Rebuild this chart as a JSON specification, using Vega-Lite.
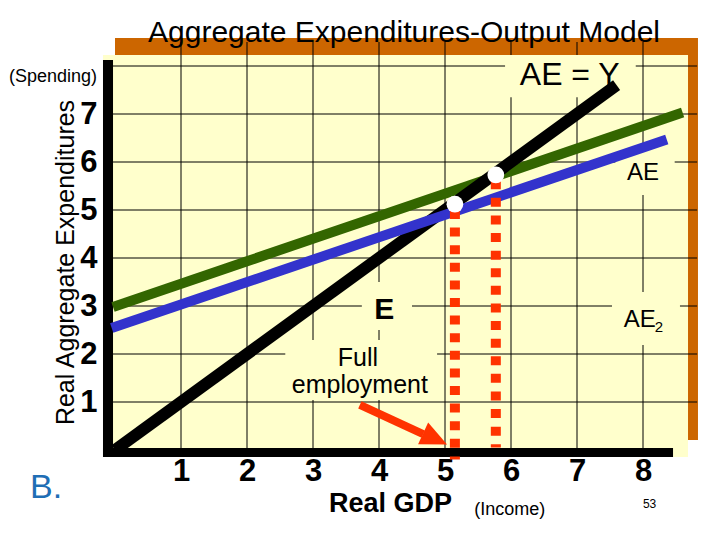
{
  "$schema": "https://vega.github.io/schema/vega-lite/v6.json",
  "width": 600,
  "height": 424,
  "autosize": {"type": "none"},
  "padding": {"left": 100, "top": 36, "right": 20, "bottom": 80},
  "background": "white",
  "title": {"text": "Aggregate Expenditures-Output Model", "fontSize": 30, "fontWeight": "normal", "font": "Liberation Sans", "color": "black", "anchor": "middle", "dx": 4, "baseline": "alphabetic", "offset": -36},
  "config": {"view": {"stroke": null}, "font": "Liberation Sans"},
  "datasets": {
    "panels": [
      {"part": "shadow", "x": 0, "x2": 8.833, "y": 0.208, "y2": 8.583},
      {"part": "face", "x": -0.182, "x2": 8.682, "y": -0.146, "y2": 8.229}
    ],
    "grid": [
      {"x": 1, "x2": 1, "y": 0, "y2": 8.5},
      {"x": 2, "x2": 2, "y": 0, "y2": 8.5},
      {"x": 3, "x2": 3, "y": 0, "y2": 8.5},
      {"x": 4, "x2": 4, "y": 0, "y2": 8.5},
      {"x": 5, "x2": 5, "y": 0, "y2": 8.5},
      {"x": 6, "x2": 6, "y": 0, "y2": 8.5},
      {"x": 7, "x2": 7, "y": 0, "y2": 8.5},
      {"x": 8, "x2": 8, "y": 0, "y2": 8.5},
      {"x": -0.1, "x2": 8.82, "y": 1, "y2": 1},
      {"x": -0.1, "x2": 8.82, "y": 2, "y2": 2},
      {"x": -0.1, "x2": 8.82, "y": 3, "y2": 3},
      {"x": -0.1, "x2": 8.82, "y": 4, "y2": 4},
      {"x": -0.1, "x2": 8.82, "y": 5, "y2": 5},
      {"x": -0.1, "x2": 8.82, "y": 6, "y2": 6},
      {"x": -0.1, "x2": 8.82, "y": 7, "y2": 7},
      {"x": -0.1, "x2": 8.82, "y": 8, "y2": 8}
    ],
    "boxes": [
      {"x": 5.91, "x2": 7.89, "y": 7.35, "y2": 8.23},
      {"x": 7.58, "x2": 8.48, "y": 5.31, "y2": 6.25},
      {"x": 3.74, "x2": 4.5, "y": 2.5, "y2": 3.5},
      {"x": 7.53, "x2": 8.56, "y": 2.19, "y2": 3.29},
      {"x": 2.58, "x2": 4.88, "y": 1.04, "y2": 2.29}
    ],
    "axesbars": [
      {"x": -0.182, "x2": -0.03, "y": -0.146, "y2": 8.125},
      {"x": -0.182, "x2": 8.455, "y": -0.146, "y2": 0.042}
    ],
    "lines": [
      {"series": "AE", "x": -0.03, "y": 2.98},
      {"series": "AE", "x": 8.6, "y": 7.03},
      {"series": "AE = Y", "x": 0, "y": 0},
      {"series": "AE = Y", "x": 7.6, "y": 7.6},
      {"series": "AE2", "x": -0.05, "y": 2.54},
      {"series": "AE2", "x": 8.36, "y": 6.47}
    ],
    "dashes": [
      {"x": 5.15, "y": 5.0, "y2": -0.2},
      {"x": 5.77, "y": 5.62, "y2": 0.05}
    ],
    "shaft": [{"x": 3.71, "y": 0.94, "x2": 4.67, "y2": 0.33}],
    "head": [{"x": 4.85, "y": 0.23}],
    "points": [
      {"x": 5.15, "y": 5.12},
      {"x": 5.77, "y": 5.73}
    ],
    "notes": [
      {"text": "AE = Y", "x": 6.89, "y": 7.82, "style": "big"},
      {"text": "AE", "x": 8.0, "y": 5.77, "style": "mid"},
      {"text": "AE", "x": 7.95, "y": 2.71, "style": "mid"},
      {"text": "2", "x": 8.24, "y": 2.56, "style": "sub"},
      {"text": "E", "x": 4.08, "y": 2.92, "style": "E"},
      {"text": "Full", "x": 3.68, "y": 1.92, "style": "full"},
      {"text": "employment", "x": 3.71, "y": 1.35, "style": "full"},
      {"text": "(Spending)", "x": -0.94, "y": 7.77, "style": "small"},
      {"text": "(Income)", "x": 5.98, "y": -1.25, "style": "small"},
      {"text": "B.", "x": -1.045, "y": -0.79, "style": "B"},
      {"text": "53", "x": 8.1, "y": -1.125, "style": "tiny"}
    ]
  },
  "layer": [
    {
      "data": {"name": "panels"},
      "mark": {"type": "rect"},
      "encoding": {
        "x": {"field": "x", "type": "quantitative",
          "scale": {"domain": [-0.2273, 8.8636], "nice": false, "zero": false},
          "axis": {"values": [1, 2, 3, 4, 5, 6, 7, 8], "format": "d", "title": "Real GDP", "titleFontSize": 27, "titleFontWeight": "bold", "titleFont": "Liberation Sans", "titleColor": "black", "titleX": 290, "titleY": 43, "titleBaseline": "middle", "titleAlign": "center", "labelFontSize": 31, "labelFontWeight": "bold", "labelFont": "Liberation Sans", "labelColor": "black", "labelDx": -5, "labelPadding": -4, "labelFlush": false, "labelOverlap": false, "labelBound": false, "ticks": false, "domain": false, "grid": false}},
        "x2": {"field": "x2"},
        "y": {"field": "y", "type": "quantitative",
          "scale": {"domain": [-0.2083, 8.625], "nice": false, "zero": false},
          "axis": {"values": [1, 2, 3, 4, 5, 6, 7], "format": "d", "title": "Real Aggregate Expenditures", "titleFontSize": 25, "titleFontWeight": "normal", "titleFont": "Liberation Sans", "titleColor": "black", "titleX": -35, "titleY": 226, "titleAngle": -90, "titleAlign": "center", "titleBaseline": "middle", "labelFontSize": 31, "labelFontWeight": "bold", "labelFont": "Liberation Sans", "labelColor": "black", "labelPadding": 3, "labelFlush": false, "labelOverlap": false, "labelBound": false, "ticks": false, "domain": false, "grid": false}},
        "y2": {"field": "y2"},
        "color": {"field": "part", "type": "nominal", "scale": {"domain": ["shadow", "face"], "range": ["#CC6600", "#FFFFCC"]}, "legend": null}
      }
    },
    {
      "data": {"name": "grid"},
      "mark": {"type": "rule", "color": "black", "strokeWidth": 1},
      "encoding": {
        "x": {"field": "x", "type": "quantitative"},
        "x2": {"field": "x2"},
        "y": {"field": "y", "type": "quantitative"},
        "y2": {"field": "y2"}
      }
    },
    {
      "data": {"name": "boxes"},
      "mark": {"type": "rect", "color": "#FFFFCC"},
      "encoding": {
        "x": {"field": "x", "type": "quantitative"},
        "x2": {"field": "x2"},
        "y": {"field": "y", "type": "quantitative"},
        "y2": {"field": "y2"}
      }
    },
    {
      "data": {"name": "axesbars"},
      "mark": {"type": "rect", "color": "black"},
      "encoding": {
        "x": {"field": "x", "type": "quantitative"},
        "x2": {"field": "x2"},
        "y": {"field": "y", "type": "quantitative"},
        "y2": {"field": "y2"}
      }
    },
    {
      "data": {"name": "lines"},
      "transform": [{"filter": "datum.series === 'AE'"}],
      "mark": {"type": "line", "color": "#336600", "strokeWidth": 10, "strokeCap": "butt"},
      "encoding": {
        "x": {"field": "x", "type": "quantitative"},
        "y": {"field": "y", "type": "quantitative"}
      }
    },
    {
      "data": {"name": "lines"},
      "transform": [{"filter": "datum.series === 'AE = Y'"}],
      "mark": {"type": "line", "color": "black", "strokeWidth": 12, "strokeCap": "butt"},
      "encoding": {
        "x": {"field": "x", "type": "quantitative"},
        "y": {"field": "y", "type": "quantitative"}
      }
    },
    {
      "data": {"name": "lines"},
      "transform": [{"filter": "datum.series === 'AE2'"}],
      "mark": {"type": "line", "color": "#3333CC", "strokeWidth": 10, "strokeCap": "butt"},
      "encoding": {
        "x": {"field": "x", "type": "quantitative"},
        "y": {"field": "y", "type": "quantitative"}
      }
    },
    {
      "data": {"name": "dashes"},
      "mark": {"type": "rule", "color": "#FF3300", "strokeWidth": 10, "strokeDash": [9, 8.6], "strokeCap": "butt"},
      "encoding": {
        "x": {"field": "x", "type": "quantitative"},
        "y": {"field": "y", "type": "quantitative"},
        "y2": {"field": "y2"}
      }
    },
    {
      "data": {"name": "shaft"},
      "mark": {"type": "rule", "color": "#FF3300", "strokeWidth": 8, "strokeCap": "butt"},
      "encoding": {
        "x": {"field": "x", "type": "quantitative"},
        "x2": {"field": "x2"},
        "y": {"field": "y", "type": "quantitative"},
        "y2": {"field": "y2"}
      }
    },
    {
      "data": {"name": "head"},
      "mark": {"type": "point", "shape": "M-1,-0.9L1,0L-1,0.9Z", "filled": true, "color": "#FF3300", "opacity": 1, "size": 700, "angle": 25, "strokeWidth": 0},
      "encoding": {
        "x": {"field": "x", "type": "quantitative"},
        "y": {"field": "y", "type": "quantitative"}
      }
    },
    {
      "data": {"name": "points"},
      "mark": {"type": "point", "shape": "circle", "filled": true, "color": "white", "opacity": 1, "size": 280, "strokeWidth": 0},
      "encoding": {
        "x": {"field": "x", "type": "quantitative"},
        "y": {"field": "y", "type": "quantitative"}
      }
    },
    {
      "data": {"name": "notes"},
      "transform": [{"filter": "datum.style === 'big'"}],
      "mark": {"type": "text", "fontSize": 32, "font": "Liberation Sans", "color": "black", "align": "center", "baseline": "middle"},
      "encoding": {"x": {"field": "x", "type": "quantitative"}, "y": {"field": "y", "type": "quantitative"}, "text": {"field": "text"}}
    },
    {
      "data": {"name": "notes"},
      "transform": [{"filter": "datum.style === 'mid'"}],
      "mark": {"type": "text", "fontSize": 24, "font": "Liberation Sans", "color": "black", "align": "center", "baseline": "middle"},
      "encoding": {"x": {"field": "x", "type": "quantitative"}, "y": {"field": "y", "type": "quantitative"}, "text": {"field": "text"}}
    },
    {
      "data": {"name": "notes"},
      "transform": [{"filter": "datum.style === 'sub'"}],
      "mark": {"type": "text", "fontSize": 15, "font": "Liberation Sans", "color": "black", "align": "center", "baseline": "middle"},
      "encoding": {"x": {"field": "x", "type": "quantitative"}, "y": {"field": "y", "type": "quantitative"}, "text": {"field": "text"}}
    },
    {
      "data": {"name": "notes"},
      "transform": [{"filter": "datum.style === 'E'"}],
      "mark": {"type": "text", "fontSize": 30, "fontWeight": "bold", "font": "Liberation Sans", "color": "black", "align": "center", "baseline": "middle"},
      "encoding": {"x": {"field": "x", "type": "quantitative"}, "y": {"field": "y", "type": "quantitative"}, "text": {"field": "text"}}
    },
    {
      "data": {"name": "notes"},
      "transform": [{"filter": "datum.style === 'full'"}],
      "mark": {"type": "text", "fontSize": 25, "font": "Liberation Sans", "color": "black", "align": "center", "baseline": "middle"},
      "encoding": {"x": {"field": "x", "type": "quantitative"}, "y": {"field": "y", "type": "quantitative"}, "text": {"field": "text"}}
    },
    {
      "data": {"name": "notes"},
      "transform": [{"filter": "datum.style === 'small'"}],
      "mark": {"type": "text", "fontSize": 18, "font": "Liberation Sans", "color": "black", "align": "center", "baseline": "middle"},
      "encoding": {"x": {"field": "x", "type": "quantitative"}, "y": {"field": "y", "type": "quantitative"}, "text": {"field": "text"}}
    },
    {
      "data": {"name": "notes"},
      "transform": [{"filter": "datum.style === 'B'"}],
      "mark": {"type": "text", "fontSize": 34, "font": "Liberation Sans", "color": "#1F6EB5", "align": "center", "baseline": "middle"},
      "encoding": {"x": {"field": "x", "type": "quantitative"}, "y": {"field": "y", "type": "quantitative"}, "text": {"field": "text"}}
    },
    {
      "data": {"name": "notes"},
      "transform": [{"filter": "datum.style === 'tiny'"}],
      "mark": {"type": "text", "fontSize": 12, "font": "Liberation Sans", "color": "black", "align": "center", "baseline": "middle"},
      "encoding": {"x": {"field": "x", "type": "quantitative"}, "y": {"field": "y", "type": "quantitative"}, "text": {"field": "text"}}
    }
  ]
}
